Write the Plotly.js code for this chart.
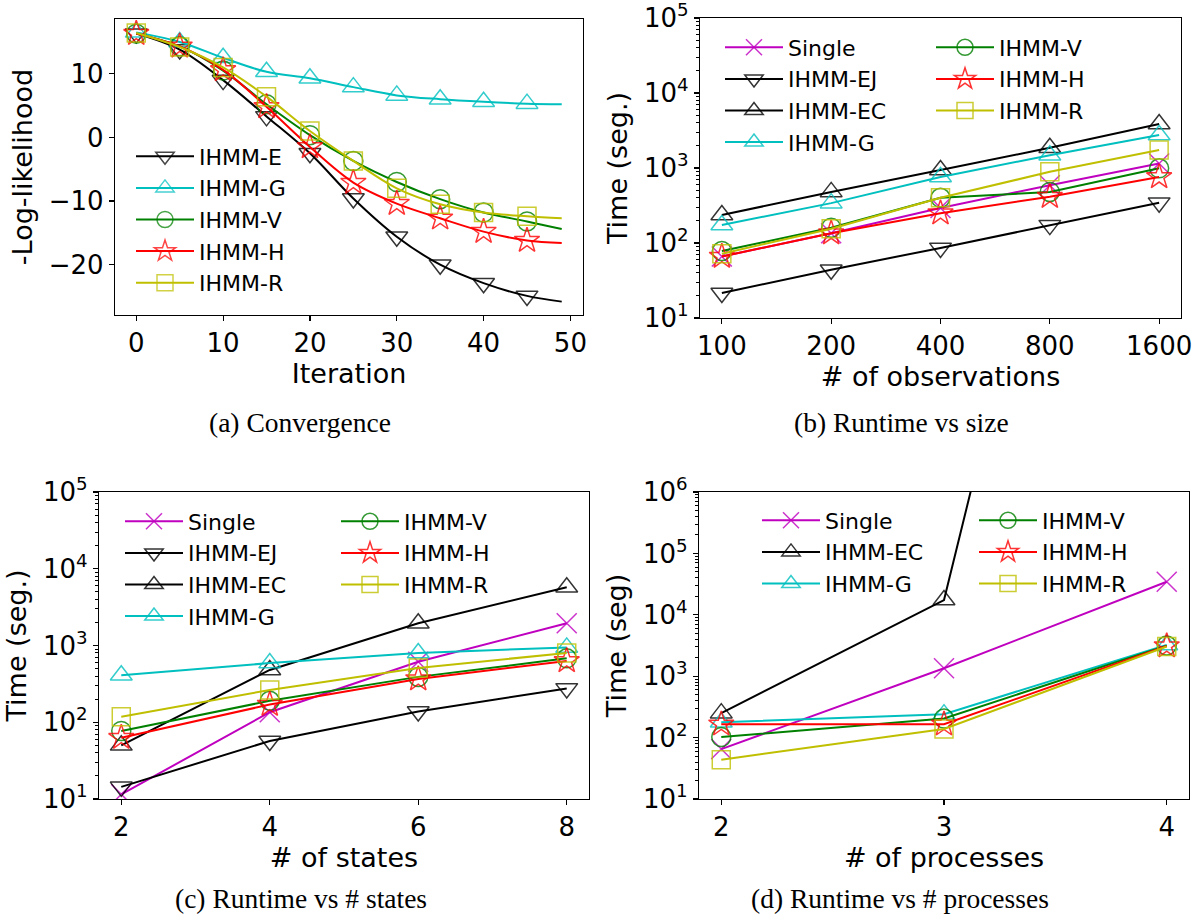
<!DOCTYPE html>
<html><head><meta charset="utf-8">
<script src="https://cdn.plot.ly/plotly-3.0.1.min.js"></script>
<style>body{margin:0;background:#fff}#chart{width:1202px;height:918px}</style>
</head><body><div id="chart"></div>
<script>
// (a) Convergence
const iterations = [0, 5, 10, 15, 20, 25, 30, 35, 40, 45, 49];
const llE = [16.3, 13.8, 9.0, 3.3, -2.5, -9.6, -15.6, -20.0, -22.9, -24.9, -25.8];
const llG = [16.5, 15.0, 12.5, 10.3, 9.3, 7.9, 6.6, 6.0, 5.6, 5.3, 5.2];
const llV = [16.3, 14.3, 10.5, 5.2, 0.35, -3.7, -7.0, -9.7, -11.8, -13.2, -14.4];
const llH = [16.3, 14.3, 10.6, 4.8, -1.5, -7.1, -10.4, -12.7, -14.8, -16.2, -16.6];
const llR = [16.4, 14.2, 11.0, 6.4, 1.0, -3.7, -8.0, -10.5, -11.8, -12.4, -12.7];
// (b) Runtime vs size
const observations = [100, 200, 400, 800, 1600];
const bSingle = [66, 135, 293, 590, 1150];
const bEJ = [21.5, 44, 86, 173, 345];
const bEC = [236, 480, 940, 1860, 3870];
const bG = [174, 340, 760, 1480, 2750];
const bV = [78, 160, 400, 480, 990];
const bH = [66, 135, 250, 415, 760];
const bR = [72, 155, 400, 890, 1740];
// (c) Runtime vs # states
const states = [2, 4, 6, 8];
const cSingle = [11.5, 135, 615, 1950];
const cEJ = [14.4, 57, 138, 276];
const cEC = [50, 480, 1950, 5750];
const cG = [410, 590, 800, 945];
const cV = [77, 190, 390, 680];
const cH = [63, 170, 365, 630];
const cR = [118, 263, 510, 800];
// (d) Runtime vs # processes
const processes = [2, 3, 4];
const dSingle = [65, 1350, 34500];
const dEC = [250, 17400, 1e19];
const dG = [178, 241, 3230];
const dV = [102, 205, 3150];
const dH = [165, 165, 3100];
const dR = [43.6, 138, 3050];

const logTickVals = [10, 100, 1000, 10000, 100000, 1000000];
const logTickText = ['10<sup>1</sup>', '10<sup>2</sup>', '10<sup>3</sup>', '10<sup>4</sup>', '10<sup>5</sup>', '10<sup>6</sup>'];

const COL = {k: '#000000', c: '#00bfbf', g: '#008000', r: '#ff0000', y: '#bfbf00', m: '#bf00bf'};
const STY = {
  'Single':   {color: COL.m, symbol: 'x-thin-open', size: 20},
  'IHMM-E':   {color: COL.k, symbol: 'triangle-down-open', size: 19},
  'IHMM-EJ':  {color: COL.k, symbol: 'triangle-down-open', size: 19},
  'IHMM-EC':  {color: COL.k, symbol: 'triangle-up-open', size: 19},
  'IHMM-G':   {color: COL.c, symbol: 'triangle-up-open', size: 19},
  'IHMM-V':   {color: COL.g, symbol: 'circle-open', size: 19},
  'IHMM-H':   {color: COL.r, symbol: 'star-open', size: 19},
  'IHMM-R':   {color: COL.y, symbol: 'square-open', size: 18}
};

function mk(x, y, name, xa, ya, legend, opts) {
  const s = STY[name];
  opts = opts || {};
  return {
    type: 'scatter', mode: 'lines+markers', x: x, y: y, name: name,
    xaxis: xa, yaxis: ya, legend: legend,
    line: {color: s.color, width: 2, shape: opts.spline ? 'spline' : 'linear'},
    marker: {symbol: s.symbol, size: s.size, color: s.color,
             opacity: opts.opacity || 0.8,
             line: {color: s.color, width: 1.5}},
    cliponaxis: true
  };
}
const hideLast = iterations.map((v, i) => i === iterations.length - 1 ? 0 : 0.8);

const data = [
  mk(iterations, llE, 'IHMM-E', 'x', 'y', 'legend', {spline: true, opacity: hideLast}),
  mk(iterations, llG, 'IHMM-G', 'x', 'y', 'legend', {spline: true, opacity: hideLast}),
  mk(iterations, llV, 'IHMM-V', 'x', 'y', 'legend', {spline: true, opacity: hideLast}),
  mk(iterations, llH, 'IHMM-H', 'x', 'y', 'legend', {spline: true, opacity: hideLast}),
  mk(iterations, llR, 'IHMM-R', 'x', 'y', 'legend', {spline: true, opacity: hideLast}),

  mk(observations, bSingle, 'Single', 'x2', 'y2', 'legend2'),
  mk(observations, bEJ, 'IHMM-EJ', 'x2', 'y2', 'legend2'),
  mk(observations, bEC, 'IHMM-EC', 'x2', 'y2', 'legend2'),
  mk(observations, bG, 'IHMM-G', 'x2', 'y2', 'legend2'),
  mk(observations, bV, 'IHMM-V', 'x2', 'y2', 'legend3'),
  mk(observations, bH, 'IHMM-H', 'x2', 'y2', 'legend3'),
  mk(observations, bR, 'IHMM-R', 'x2', 'y2', 'legend3'),

  mk(states, cSingle, 'Single', 'x3', 'y3', 'legend4'),
  mk(states, cEJ, 'IHMM-EJ', 'x3', 'y3', 'legend4'),
  mk(states, cEC, 'IHMM-EC', 'x3', 'y3', 'legend4'),
  mk(states, cG, 'IHMM-G', 'x3', 'y3', 'legend4'),
  mk(states, cV, 'IHMM-V', 'x3', 'y3', 'legend5'),
  mk(states, cH, 'IHMM-H', 'x3', 'y3', 'legend5'),
  mk(states, cR, 'IHMM-R', 'x3', 'y3', 'legend5'),

  mk(processes, dSingle, 'Single', 'x4', 'y4', 'legend6'),
  mk(processes, dEC, 'IHMM-EC', 'x4', 'y4', 'legend6'),
  mk(processes, dG, 'IHMM-G', 'x4', 'y4', 'legend6'),
  mk(processes, dV, 'IHMM-V', 'x4', 'y4', 'legend7'),
  mk(processes, dH, 'IHMM-H', 'x4', 'y4', 'legend7'),
  mk(processes, dR, 'IHMM-R', 'x4', 'y4', 'legend7')
];

const W = 1202, H = 918;
const px = v => v / W, py = v => 1 - v / H;
const FONT = 'DejaVu Sans';
const baseAxis = {
  showline: true, mirror: true, linecolor: '#000', linewidth: 1.2,
  ticks: 'outside', ticklen: 5, tickwidth: 1.2, tickcolor: '#000',
  showgrid: false, zeroline: false, ticklabeloverflow: 'allow',
  tickfont: {family: FONT, size: 26, color: '#000'}
};
function ax(extra) { return Object.assign({}, baseAxis, extra); }
function logY(maxExp, anchor, domain, title) {
  return ax({type: 'log', range: [0.9999, maxExp + 0.0001], anchor: anchor, domain: domain,
    tickmode: 'array', tickvals: logTickVals, ticktext: logTickText,
    minor: {ticks: 'outside', ticklen: 3, tickwidth: 1, tickcolor: '#000', dtick: 'D1', showgrid: false},
    title: {text: title, font: {family: FONT, size: 27, color: '#000'}, standoff: 8}});
}
function legendAt(x, y) {
  return {x: px(x), y: py(y), xref: 'paper', yref: 'paper', xanchor: 'left', yanchor: 'top',
    bgcolor: 'rgba(0,0,0,0)', borderwidth: 0, font: {family: FONT, size: 22, color: '#000'},
    itemwidth: 58, tracegroupgap: 0};
}
function caption(text, x, y) {
  return {text: text, x: px(x), y: py(y), xref: 'paper', yref: 'paper', showarrow: false,
    xanchor: 'center', yanchor: 'middle', font: {family: 'Liberation Serif', size: 27.5, color: '#000'}};
}
function xTitle(text, standoff) {
  return {text: text, font: {family: FONT, size: 27, color: '#000'}, standoff: standoff};
}

const layout = {
  width: W, height: H, margin: {l: 0, r: 0, t: 0, b: 0},
  paper_bgcolor: '#fff', plot_bgcolor: '#fff', showlegend: true,
  font: {family: FONT, color: '#000'},
  xaxis: ax({domain: [px(115), px(583)], anchor: 'y', range: [-2.45, 51.45],
    tickmode: 'array', tickvals: [0, 10, 20, 30, 40, 50], title: xTitle('Iteration', 5)}),
  yaxis: ax({domain: [py(315), py(19)], anchor: 'x', range: [-27.9, 18.6],
    tickmode: 'array', tickvals: [-20, -10, 0, 10],
    title: {text: '-Log-likelihood', font: {family: FONT, size: 27, color: '#000'}, standoff: 8}}),
  xaxis2: ax({type: 'log', domain: [px(700), px(1181)], anchor: 'y2',
    range: [Math.log10(100) - 0.0602, Math.log10(1600) + 0.0602],
    tickmode: 'array', tickvals: observations, ticktext: observations.map(String),
    title: xTitle('# of observations', 1)}),
  yaxis2: logY(5, 'x2', [py(318), py(18)], 'Time (seg.)'),
  xaxis3: ax({domain: [px(99), px(589)], anchor: 'y3', range: [1.7, 8.3],
    tickmode: 'array', tickvals: states, title: xTitle('# of states', 0)}),
  yaxis3: logY(5, 'x3', [py(799), py(492)], 'Time (seg.)'),
  xaxis4: ax({domain: [px(699), px(1189)], anchor: 'y4', range: [1.9, 4.1],
    tickmode: 'array', tickvals: processes, title: xTitle('# of processes', 0)}),
  yaxis4: logY(6, 'x4', [py(799), py(492)], 'Time (seg)'),
  legend: legendAt(131, 135.5),
  legend2: legendAt(720, 26.5),
  legend3: legendAt(931, 26.5),
  legend4: legendAt(120, 500.5),
  legend5: legendAt(336, 500.5),
  legend6: legendAt(757, 499.5),
  legend7: legendAt(974, 499.5),
  annotations: [
    caption('(a) Convergence', 300, 423),
    caption('(b) Runtime vs size', 901, 423),
    caption('(c) Runtime vs # states', 301, 898),
    caption('(d) Runtime vs # processes', 900, 898)
  ]
};

Plotly.newPlot('chart', data, layout, {displayModeBar: false, staticPlot: true});
</script>
</body></html>
